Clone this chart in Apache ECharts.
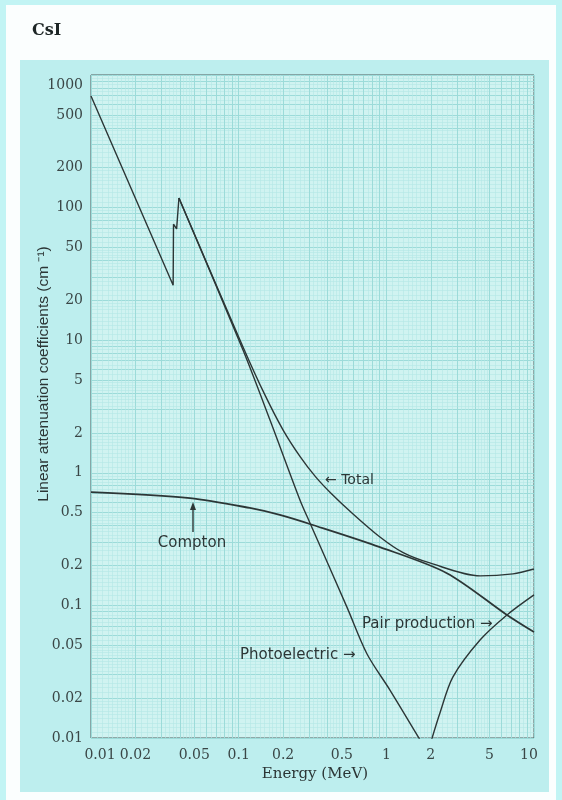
<!DOCTYPE html>
<html>
<head>
<meta charset="utf-8">
<script src="https://cdn.jsdelivr.net/npm/echarts@6/dist/echarts.min.js"></script>
<style>
html,body{margin:0;padding:0;background:#c2f4f4;}
#chart{width:562px;height:800px;}
</style>
</head>
<body>
<div id="chart"></div>
<script>
// tick labels
var xTicks = [0.01, 0.02, 0.05, 0.1, 0.2, 0.5, 1, 2, 5, 10];
var yTicks = [0.01, 0.02, 0.05, 0.1, 0.2, 0.5, 1, 2, 5, 10, 20, 50, 100, 200, 500, 1000];

// graph paper rulings
var xDecades = [0.01, 0.1, 1];
var yDecades = [0.01, 0.1, 1, 10, 100];
var mainSteps = [1, 2, 3, 4, 5, 6, 7, 8, 9];
var fineSteps = [1.1, 1.2, 1.3, 1.4, 1.5, 1.6, 1.7, 1.8, 1.9, 2.2, 2.4, 2.6, 2.8, 3.2, 3.4, 3.6, 3.8,
                 4.2, 4.4, 4.6, 4.8, 5.5, 6.5, 7.5, 8.5, 9.5];

// curves (MeV, cm-1)
// photoelectric: K edges of I and Cs, then a smooth fall
var photoEdgeE  = [0.01, 0.0360, 0.0362, 0.0380, 0.0394];
var photoEdgeMu = [695,  26,     75,     69,     118];
var photoE  = [0.0394, 0.107, 0.163, 0.26,  0.304, 0.541, 0.74,  1.058, 1.68];
var photoMu = [118,    8.43,  2.5,   0.624, 0.418, 0.097, 0.043, 0.023, 0.0098];

var totalE  = [0.0394, 0.107, 0.15, 0.2, 0.26, 0.33, 0.42,  0.6,   0.905, 1.3,  1.97,  4.31,  7.2,   10];
var totalMu = [118,    8.9,   3.9,  2.1, 1.33, 0.94, 0.705, 0.485, 0.328, 0.25, 0.209, 0.167, 0.173, 0.188];

var comptonE  = [0.01,  0.0468, 0.119, 0.19,  0.318, 0.905, 2.57,  6.56,   10];
var comptonMu = [0.716, 0.645,  0.543, 0.481, 0.404, 0.275, 0.175, 0.0847, 0.0629];

var pairE  = [2.03,   2.31,   2.82,   4.31,   6.56,   10];
var pairMu = [0.0098, 0.0155, 0.0288, 0.0548, 0.0847, 0.120];

function ruling(decades, steps, last) {
  var out = [];
  decades.forEach(function (d) {
    steps.forEach(function (m) { out.push(+(d * m).toPrecision(6)); });
  });
  if (last) out.push(last);
  return out;
}
function zip(a, b) { return a.map(function (v, i) { return [v, b[i]]; }); }
function fmt(v) { return String(+(+v).toPrecision(3)); }

var ink = '#2c3636';
var chart = echarts.init(document.getElementById('chart'));

function lineSeries(name, e, mu, smooth, width) {
  return {
    name: name, type: 'line', data: zip(e, mu), showSymbol: false, symbol: 'none',
    smooth: smooth ? 0.3 : false, clip: true, silent: true,
    lineStyle: { color: ink, width: width || 1.4 }
  };
}

var labelFont = { fontFamily: 'DejaVu Serif', fontSize: 14, color: '#3a4646' };

function txt(x, y, text, font, align, extra) {
  return Object.assign({
    type: 'text', x: x, y: y, z: 100,
    style: { text: text, font: font, fill: ink, textAlign: align || 'left', textVerticalAlign: 'middle' }
  }, extra || {});
}

chart.setOption({
  animation: false,
  grid: {
    left: 91, right: 28, top: 75, bottom: 62,
    show: true, backgroundColor: '#d0f3f1', borderColor: '#4f5f5f', borderWidth: 1,
    outerBoundsMode: 'none'
  },
  xAxis: [{
    type: 'log', min: 0.01, max: 10,
    axisLine: { show: false },
    axisTick: { show: false, customValues: ruling(xDecades, fineSteps) },
    splitLine: { show: true, lineStyle: { color: '#b3e7e5', width: 0.6 } },
    axisLabel: Object.assign({
      customValues: xTicks, margin: 10,
      formatter: function (v) {
        var s = fmt(v);
        if (s === '0.01') return '{l|' + s + '}';
        if (s === '10') return '{r|' + s + '}';
        return s;
      },
      rich: { l: { padding: [0, 0, 0, 18] }, r: { padding: [0, 10, 0, 0] } }
    }, labelFont)
  }, {
    type: 'log', min: 0.01, max: 10,
    axisLine: { show: false }, axisLabel: { show: false },
    axisTick: { show: false, customValues: ruling(xDecades, mainSteps, 10) },
    splitLine: { show: true, lineStyle: { color: '#9cdbd9', width: 1 } }
  }],
  yAxis: [{
    type: 'log', min: 0.01, max: 1000,
    axisLine: { show: false },
    axisTick: { show: false, customValues: ruling(yDecades, fineSteps) },
    splitLine: { show: true, lineStyle: { color: '#b3e7e5', width: 0.6 } },
    axisLabel: Object.assign({
      customValues: yTicks, margin: 8,
      formatter: function (v) {
        var s = fmt(v);
        return s === '1000' ? '{t|' + s + '}' : s;
      },
      rich: { t: { padding: [20, 0, 0, 0] } }
    }, labelFont)
  }, {
    type: 'log', min: 0.01, max: 1000,
    axisLine: { show: false }, axisLabel: { show: false },
    axisTick: { show: false, customValues: ruling(yDecades, mainSteps, 1000) },
    splitLine: { show: true, lineStyle: { color: '#9cdbd9', width: 1 } }
  }],
  graphic: [
    { type: 'rect', z: -10, shape: { x: 6, y: 5, width: 550, height: 800 }, style: { fill: '#fbfefe' } },
    { type: 'rect', z: -9, shape: { x: 20, y: 60, width: 529, height: 732 }, style: { fill: '#bdeeee' } },
    txt(32, 31, 'CsI', 'bold 16px "DejaVu Serif"', 'left', { style: { text: 'CsI', font: 'bold 16px "DejaVu Serif"', fill: '#1e2626', textVerticalAlign: 'middle' } }),
    txt(44, 374, 'Linear attenuation coefficients (cm \u207B\u00B9)', '15.5px "Liberation Sans"', 'center', { rotation: Math.PI / 2 }),
    txt(315, 774, 'Energy (MeV)', '15px "DejaVu Serif"', 'center'),
    txt(325, 480, '\u2190 Total', '14px "DejaVu Sans"'),
    txt(192, 543, 'Compton', '15px "DejaVu Sans"', 'center'),
    { type: 'line', z: 100, shape: { x1: 193, y1: 532, x2: 193, y2: 507 }, style: { stroke: ink, lineWidth: 1.4 } },
    { type: 'polygon', z: 100, shape: { points: [[193, 502], [190, 510], [196, 510]] }, style: { fill: ink } },
    txt(362, 624, 'Pair production \u2192', '15px "DejaVu Sans"'),
    txt(240, 655, 'Photoelectric \u2192', '15px "DejaVu Sans"')
  ],
  series: [
    lineSeries('Photoelectric (edges)', photoEdgeE, photoEdgeMu, false),
    lineSeries('Photoelectric', photoE, photoMu, true),
    lineSeries('Total', totalE, totalMu, true),
    lineSeries('Compton', comptonE, comptonMu, true, 1.8),
    lineSeries('Pair production', pairE, pairMu, true)
  ]
});
</script>
</body>
</html>
